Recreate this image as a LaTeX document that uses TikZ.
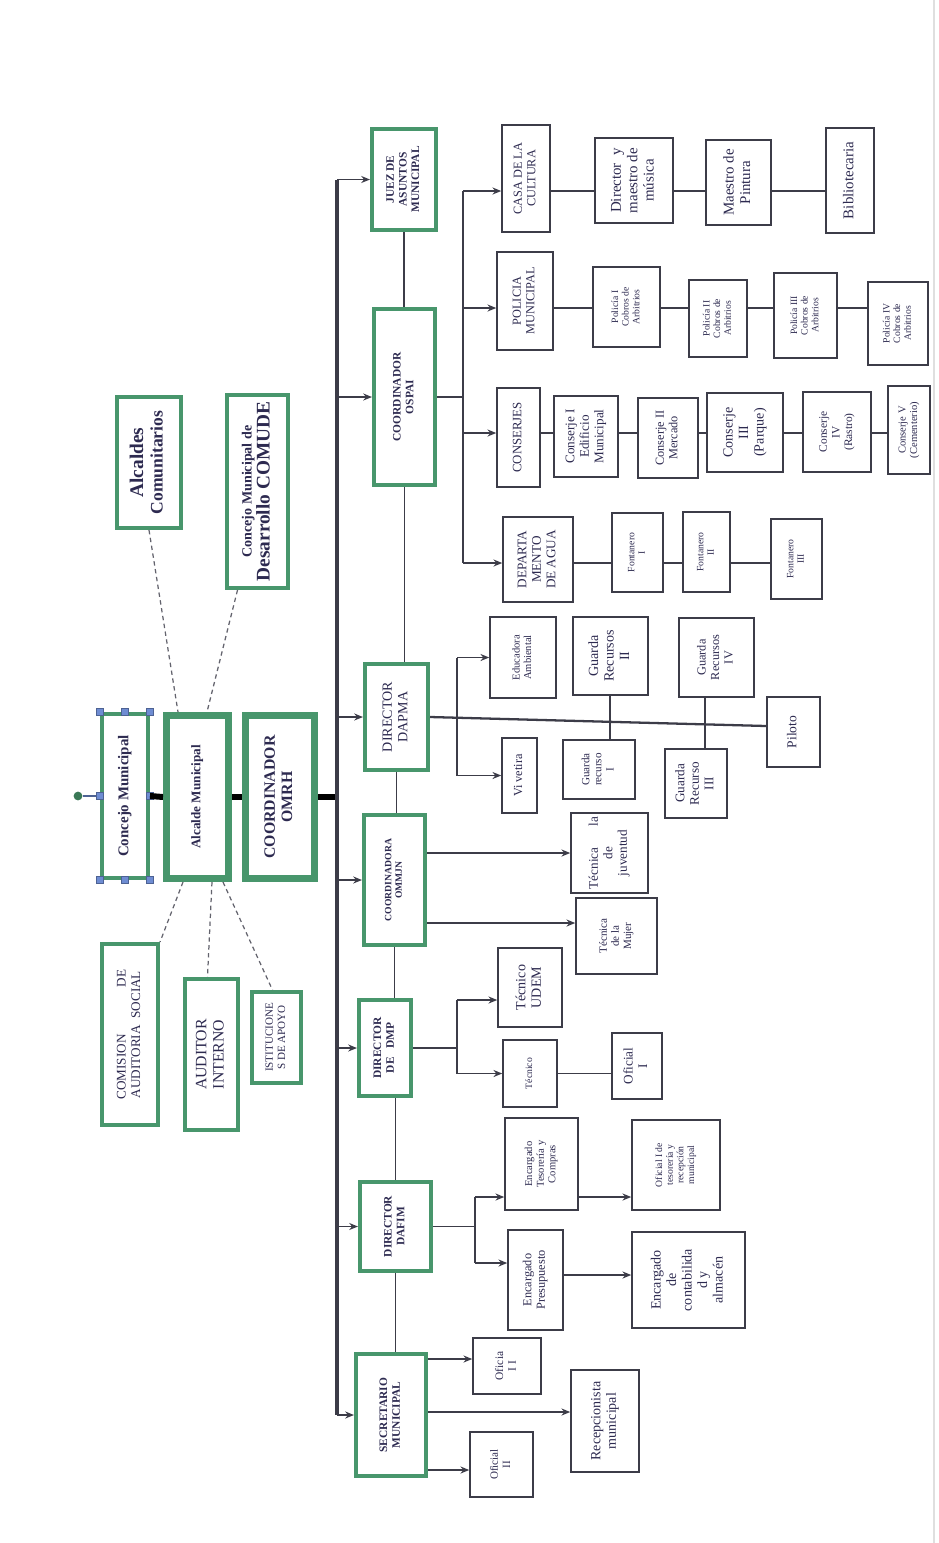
\documentclass[tikz,border=0pt]{standalone}
\usepackage{fontspec}
\setmainfont{Liberation Serif}
\usetikzlibrary{positioning,arrows.meta}

\definecolor{verde}{RGB}{72,150,108}
\definecolor{tinta}{RGB}{45,42,80}
\definecolor{linea}{RGB}{60,60,72}
\definecolor{azulasa}{RGB}{110,140,210}

\newcommand{\fsz}[1]{\fontsize{#1}{\fpeval{#1*1.1}}\selectfont}
\newcommand{\rt}[1]{\rotatebox{90}{\begin{tabular}{@{}c@{}}#1\end{tabular}}}

\begin{document}
\begin{tikzpicture}[
    x=0.02cm, y=-0.02cm,
    every node/.style={font=\fsz{7}, text=tinta},
    fs/.style={font=\fsz{#1}},
    fb/.style={font=\bfseries\fsz{#1}},
    sz/.style 2 args={minimum width=#1cm, minimum height=#2cm},
    jefe/.style={draw=verde, line width=2.3pt, inner sep=0pt, fill=white},
    cargo/.style={draw=linea, line width=0.85pt, inner sep=0pt, fill=white},
    ln/.style={draw=linea, line width=0.7pt},
    arr/.style={draw=linea, line width=0.9pt, -{Stealth[length=5pt, width=4pt]}},
    tronco/.style={draw=linea, line width=2.8pt},
    enlace/.style={draw=black, line width=3.4pt},
    punteo/.style={draw=linea!80, line width=0.7pt, dash pattern=on 2.5pt off 2pt},
    asa/.style={draw=azulasa!70!black, fill=azulasa, minimum size=4pt, inner sep=0pt},
    punto/.style={circle, fill=verde!80!black, minimum size=5pt, inner sep=0pt}
]
\useasboundingbox (0,0) rectangle (938,1543);
\draw[gray!25, line width=1pt] (934,0) -- (934,1543);

% Concejo, alcalde y coordinador
\node[jefe, fb=8.5, sz={0.92}{3.28}] (concejo) at (125,796) {\rt{Concejo Municipal}};
\node[jefe, line width=4pt, fb=7.5, sz={1.24}{3.26}] (alcalde) at (197.5,797) {\rt{Alcalde Municipal}};
\node[jefe, line width=4pt, fb=9, sz={1.38}{3.26}] (omrh) at (280,797) {\rt{COORDINADOR\\OMRH}};

% Organos de apoyo
\node[jefe, fb=10, sz={1.28}{2.62}] (alcom) at (149,462.5) {\rt{{\fsz{11}Alcaldes}\\Comunitarios}};
\node[jefe, fb=8, sz={1.22}{3.86}] (comude) at (257.5,491.5) {\rt{Concejo Municipal de\\{\fsz{11}Desarrollo COMUDE}}};
\node[jefe, fs=7.5, sz={1.12}{3.62}] (comision) at (130,1034.5) {\rt{COMISION\hspace{3.6em}DE\\AUDITORIA\ \ SOCIAL}};
\node[jefe, fs=9, sz={1.06}{3.02}] (auditor) at (211.5,1054.5) {\rt{AUDITOR\\INTERNO}};
\node[jefe, fs=6.3, sz={0.98}{1.82}] (istit) at (276.5,1037.5) {\rt{ISTITUCIONE\\S DE APOYO}};

% Dependencias
\node[jefe, fb=6.5, sz={1.28}{2.02}] (juez) at (404,179.5) {\rt{JUEZ DE\\ASUNTOS\\MUNICIPAL}};
\node[jefe, fb=6.5, sz={1.22}{3.52}] (ospai) at (404.5,397) {\rt{COORDINADOR\\OSPAI}};
\node[jefe, fs=8, sz={1.26}{2.12}] (dapma) at (396.5,717) {\rt{DIRECTOR\\DAPMA}};
\node[jefe, fb=5.5, sz={1.22}{2.6}] (ommjn) at (394.5,880) {\rt{COORDINADORA\\OMMJN}};
\node[jefe, fb=6.5, sz={1.04}{1.92}] (dmp) at (385,1048) {\rt{DIRECTOR\\DE\ \ \ DMP}};
\node[jefe, fb=6.5, sz={1.42}{1.78}] (dafim) at (395.5,1226.5) {\rt{DIRECTOR\\DAFIM}};
\node[jefe, fb=6.5, sz={1.4}{2.44}] (secre) at (391,1415) {\rt{SECRETARIO\\MUNICIPAL}};

% OSPAI
\node[cargo, fs=7, sz={0.96}{2.14}] (casa) at (526,178.5) {\rt{CASA DE LA\\CULTURA}};
\node[cargo, fs=8.5, sz={1.56}{1.7}] (dirmus) at (634,180.5) {\rt{Director\ \ y\\maestro de\\música}};
\node[cargo, fs=8.5, sz={1.3}{1.7}] (pintura) at (738.5,182.5) {\rt{Maestro de\\Pintura}};
\node[cargo, fs=8.5, sz={0.96}{2.1}] (biblio) at (850,180.5) {\rt{Bibliotecaria}};
\node[cargo, fs=7, sz={1.12}{1.96}] (policia) at (525,301) {\rt{POLICIA\\MUNICIPAL}};
\node[cargo, fs=5.5, sz={1.34}{1.6}] (pol1) at (626.5,307) {\rt{Policía I\\Cobros de\\Arbitrios}};
\node[cargo, fs=5.5, sz={1.16}{1.54}] (pol2) at (718,318.5) {\rt{Policía II\\Cobros de\\Arbitrios}};
\node[cargo, fs=5.5, sz={1.26}{1.7}] (pol3) at (805.5,315.5) {\rt{Policía III\\Cobros de\\Arbitrios}};
\node[cargo, fs=5.5, sz={1.2}{1.66}] (pol4) at (898,323.5) {\rt{Policía IV\\Cobros de\\Arbitrios}};
\node[cargo, fs=7.3, sz={0.86}{1.98}] (conserjes) at (518.5,437.5) {\rt{CONSERJES}};
\node[cargo, fs=7.5, sz={1.28}{1.62}] (con1) at (586,436.5) {\rt{Conserje I\\Edificio\\Municipal}};
\node[cargo, fs=7, sz={1.2}{1.6}] (con2) at (668,438) {\rt{Conserje II\\Mercado}};
\node[cargo, fs=8, sz={1.52}{1.58}] (con3) at (745,432.5) {\rt{Conserje\\III\\(Parque)}};
\node[cargo, fs=6.5, sz={1.36}{1.6}] (con4) at (837,432) {\rt{Conserje\\IV\\(Rastro)}};
\node[cargo, fs=6, sz={0.84}{1.76}] (con5) at (909,430) {\rt{Conserje V\\(Cementerio)}};
\node[cargo, fs=7.5, sz={1.4}{1.7}] (agua) at (538,559.5) {\rt{DEPARTA\\MENTO\\DE AGUA}};
\node[cargo, fs=5.5, sz={1.02}{1.58}] (font1) at (637.5,552.5) {\rt{Fontanero\\I}};
\node[cargo, fs=5.5, sz={0.94}{1.6}] (font2) at (706.5,552) {\rt{Fontanero\\II}};
\node[cargo, fs=5.5, sz={1.02}{1.6}] (font3) at (796.5,559) {\rt{Fontanero\\III}};

% DAPMA
\node[cargo, fs=6, sz={1.32}{1.62}] (educ) at (523,657.5) {\rt{Educadora\\Ambiental}};
\node[cargo, fs=7, sz={0.7}{1.5}] (vivero) at (519.5,775.5) {\rt{Vi vetira}};
\node[cargo, fs=8, sz={1.5}{1.56}] (gr2) at (610.5,656) {\rt{Guarda\\Recursos\\II}};
\node[cargo, fs=6.3, sz={1.44}{1.18}] (gr1) at (599,769.5) {\rt{Guarda\\recurso\\I}};
\node[cargo, fs=7, sz={1.5}{1.58}] (gr4) at (716.5,657.5) {\rt{Guarda\\Recursos\\IV}};
\node[cargo, fs=7.5, sz={1.24}{1.38}] (gr3) at (696,783.5) {\rt{Guarda\\Recurso\\III}};
\node[cargo, fs=7.7, sz={1.06}{1.4}] (piloto) at (793.5,732) {\rt{Piloto}};

% OMMJN
\node[cargo, fs=7.5, sz={1.54}{1.6}] (tjuv) at (609.5,853) {\rt{Técnica\hspace{1.6em}la\\de\\juventud}};
\node[cargo, fs=6.3, sz={1.62}{1.52}] (tmuj) at (616.5,936) {\rt{Técnica\\de la\\Mujer}};

% DMP
\node[cargo, fs=8, sz={1.28}{1.58}] (udem) at (530,987.5) {\rt{Técnico\\UDEM}};
\node[cargo, fs=5.5, sz={1.08}{1.34}] (tecnico) at (530,1073.5) {\rt{Técnico}};
\node[cargo, fs=7.5, sz={1.0}{1.32}] (of1) at (637,1066) {\rt{Oficial\\I}};

% DAFIM
\node[cargo, fs=6, sz={1.46}{1.84}] (tesor) at (541.5,1164) {\rt{Encargado\\Tesorería y\\Compras}};
\node[cargo, fs=7, sz={1.1}{2.0}] (presu) at (535.5,1280) {\rt{Encargado\\Presupuesto}};
\node[cargo, fs=5.5, sz={1.76}{1.8}] (oftes) at (676,1165) {\rt{Oficial I de\\tesorería y\\recepción\\municipal}};
\node[cargo, fs=8, sz={2.26}{1.92}] (conta) at (688.5,1280) {\rt{Encargado\\de\\contabilida\\d y\\almacén}};

% Secretaria
\node[cargo, fs=6.5, sz={1.36}{1.12}] (oficia) at (507,1366) {\rt{Oficia\\I I}};
\node[cargo, fs=8, sz={1.36}{2.04}] (recep) at (605,1421) {\rt{Recepcionista\\municipal}};
\node[cargo, fs=6.3, sz={1.26}{1.3}] (ofii) at (501.5,1464.5) {\rt{Oficial\\II}};

% marcas de seleccion
\foreach \a in {north west,north,north east,west,east,south west,south,south east}
    \node[asa] (h-\a) at (concejo.\a) {};
\node[punto] (giro) at (78,796) {};
\draw[azulasa!70!black, line width=0.6pt] (giro) -- (h-west);

% enlaces superiores
\coordinate (tr) at (337,0);
\draw[enlace] (concejo.east) -- (alcalde.west);
\draw[enlace] (alcalde.east) -- (omrh.west);
\draw[enlace] (omrh.east) -- (omrh.east -| tr);
\draw[punteo] (alcom.south) -- ([xshift=-0.39cm]alcalde.north);
\draw[punteo] ([xshift=-0.4cm]comude.south) -- ([xshift=0.19cm]alcalde.north);
\draw[punteo] ([xshift=-0.29cm]alcalde.south) -- (comision.north east);
\draw[punteo] ([xshift=0.29cm]alcalde.south) -- ([xshift=-0.08cm]auditor.north);
\draw[punteo] ([xshift=0.51cm]alcalde.south) -- ([xshift=-0.08cm]istit.north);

% tronco
\draw[tronco] (juez.west -| tr) -- (secre.west -| tr);
\foreach \n in {juez,ospai,dapma,ommjn,dmp,dafim,secre}
    \draw[arr] (\n.west -| tr) -- (\n.west);
\draw[ln] (juez.south) -- (juez.south |- ospai.north);
\draw[ln] (ospai.south) -- (ospai.south |- dapma.north);
\draw[ln] (dapma.south) -- (dapma.south |- ommjn.north);
\draw[ln] (ommjn.south) -- (ommjn.south |- dmp.north);
\draw[ln] (dafim.north |- dmp.south) -- (dafim.north);
\draw[ln] (dafim.south) -- (dafim.south |- secre.north);

% ramas OSPAI
\coordinate (b1) at (463,0);
\coordinate (rcasa) at (0,191);
\coordinate (rpol) at (0,308);
\coordinate (rcon) at (0,433);
\coordinate (ragua) at (0,563);
\draw[ln, line width=1pt] (ospai.east) -- (ospai.east -| b1);
\draw[ln, line width=1pt] (b1 |- rcasa) -- (b1 |- ragua);
\draw[arr] (b1 |- rcasa) -- (casa.west |- rcasa);
\draw[arr] (b1 |- rpol) -- (policia.west |- rpol);
\draw[arr] (b1 |- rcon) -- (conserjes.west |- rcon);
\draw[arr] (b1 |- ragua) -- (agua.west |- ragua);
\foreach \a/\b in {casa/dirmus, dirmus/pintura, pintura/biblio}
    \draw[ln] (\a.east |- rcasa) -- (\b.west |- rcasa);
\foreach \a/\b in {policia/pol1, pol1/pol2, pol2/pol3, pol3/pol4}
    \draw[ln] (\a.east |- rpol) -- (\b.west |- rpol);
\foreach \a/\b in {conserjes/con1, con1/con2, con2/con3, con3/con4, con4/con5}
    \draw[ln] (\a.east |- rcon) -- (\b.west |- rcon);
\foreach \a/\b in {agua/font1, font1/font2, font2/font3}
    \draw[ln] (\a.east |- ragua) -- (\b.west |- ragua);

% ramas DAPMA
\coordinate (b2) at (457,0);
\coordinate (g1) at (610,0);
\coordinate (g2) at (705,0);
\draw[ln, line width=1.3pt] (dapma.east) -- ([yshift=0.12cm]piloto.west);
\draw[ln, line width=1pt] (b2 |- educ.west) -- (b2 |- vivero.west);
\draw[arr] (b2 |- educ.west) -- (educ.west);
\draw[arr] (b2 |- vivero.west) -- (vivero.west);
\draw[ln] (g1 |- gr2.south) -- (g1 |- gr1.north);
\draw[ln] (g2 |- gr4.south) -- (g2 |- gr3.north);

% ramas OMMJN
\coordinate (rmuj) at (0,923);
\draw[arr] (ommjn.east |- tjuv.west) -- (tjuv.west);
\draw[arr] (ommjn.east |- rmuj) -- (tmuj.west |- rmuj);

% ramas DMP
\coordinate (b3) at (457,0);
\coordinate (rudem) at (0,1000);
\draw[ln, line width=1pt] (dmp.east) -- (dmp.east -| b3);
\draw[ln, line width=1pt] (b3 |- rudem) -- (b3 |- tecnico.west);
\draw[arr] (b3 |- rudem) -- (udem.west |- rudem);
\draw[arr] (b3 |- tecnico.west) -- (tecnico.west);
\draw[ln] (tecnico.east) -- (tecnico.east -| of1.west);

% ramas DAFIM
\coordinate (b4) at (475,0);
\coordinate (rtes) at (0,1197);
\coordinate (rpre) at (0,1263);
\coordinate (rcta) at (0,1275);
\draw[ln] (dafim.east) -- (dafim.east -| b4);
\draw[ln, line width=1pt] (b4 |- rtes) -- (b4 |- rpre);
\draw[arr] (b4 |- rtes) -- (tesor.west |- rtes);
\draw[arr] (b4 |- rpre) -- (presu.west |- rpre);
\draw[arr] (tesor.east |- rtes) -- (oftes.west |- rtes);
\draw[arr] (presu.east |- rcta) -- (conta.west |- rcta);

% ramas Secretaria
\coordinate (rofa) at (0,1359);
\coordinate (rrec) at (0,1412);
\coordinate (rofb) at (0,1470);
\draw[arr] (secre.east |- rofa) -- (oficia.west |- rofa);
\draw[arr] (secre.east |- rrec) -- (recep.west |- rrec);
\draw[arr] (secre.east |- rofb) -- (ofii.west |- rofb);

\end{tikzpicture}
\end{document}
